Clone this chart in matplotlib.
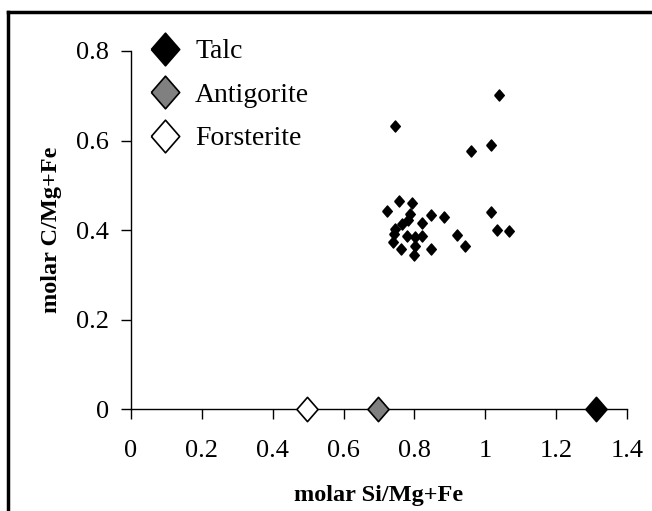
import matplotlib
matplotlib.use("Agg")
import matplotlib.pyplot as plt
from matplotlib.lines import Line2D

plt.rcParams['font.family'] = ['Liberation Serif', 'DejaVu Serif']

# Sample data
si_mg = [0.745, 1.038, 1.016, 0.960, 0.757, 0.794, 0.722, 1.016, 0.883, 0.846,
         0.787, 0.782, 0.766, 0.822, 0.745, 1.032, 1.067, 0.743, 0.778, 0.801,
         0.822, 0.921, 0.740, 0.944, 0.761, 0.801, 0.848, 0.798]
c_mg = [0.633, 0.702, 0.590, 0.577, 0.465, 0.461, 0.443, 0.440, 0.430, 0.434,
        0.435, 0.423, 0.414, 0.415, 0.403, 0.400, 0.397, 0.391, 0.387, 0.385,
        0.387, 0.389, 0.373, 0.365, 0.358, 0.365, 0.359, 0.344]

# Reference minerals
minerals = ["Talc", "Antigorite", "Forsterite"]
mineral_x = [1.312, 0.698, 0.496]
mineral_y = [0.0, 0.0, 0.0]
mineral_colors = ["black", "#808080", "white"]

diamond = [(-1, 0), (0, 1.15), (1, 0), (0, -1.15), (-1, 0)]

fig = plt.figure(figsize=(6.52, 5.11), dpi=100)
ax = fig.add_axes([131/652, 1 - 409.3/511, (627-131)/652, (409.3-51)/511])

ax.scatter(si_mg, c_mg, marker=diamond, s=64, color='black', zorder=3)

handles = []
for name, x, y, c in zip(minerals, mineral_x, mineral_y, mineral_colors):
    ax.plot([x], [y], marker=diamond, markersize=17.5, markerfacecolor=c,
            markeredgecolor='black', markeredgewidth=1.2, linestyle='none',
            zorder=4, clip_on=False)
    handles.append(Line2D([], [], marker=diamond, markersize=23.5, markerfacecolor=c,
                          markeredgecolor='black', markeredgewidth=1.2,
                          linestyle='none', label=name))

ax.set_xlim(0, 1.4)
ax.set_ylim(0, 0.8)
ax.set_xticks([0, 0.2, 0.4, 0.6, 0.8, 1.0, 1.2, 1.4])
ax.set_xticklabels(["0", "0.2", "0.4", "0.6", "0.8", "1", "1.2", "1.4"])
ax.set_yticks([0, 0.2, 0.4, 0.6, 0.8])
ax.set_yticklabels(["0", "0.2", "0.4", "0.6", "0.8"])
for s in ['top', 'right']:
    ax.spines[s].set_visible(False)
for s in ['left', 'bottom']:
    ax.spines[s].set_linewidth(1.0)
ax.tick_params(axis='both', direction='out', length=7, width=1.0, labelsize=19)
ax.tick_params(axis='x', pad=15)
ax.tick_params(axis='y', pad=9)

ax.set_xlabel("molar Si/Mg+Fe", fontsize=17.5, fontweight='bold', labelpad=17)
ax.set_ylabel("molar C/Mg+Fe", fontsize=17.5, fontweight='bold', labelpad=10)

leg = ax.legend(handles=handles, loc='upper left',
                bbox_to_anchor=(148/652, 1 - 39/511), bbox_transform=fig.transFigure,
                frameon=False, fontsize=20, handletextpad=0.5, borderpad=0,
                borderaxespad=0, labelspacing=0.65, handlelength=1.2)

# figure frame
fig.add_artist(Line2D([8/652, 8/652], [0, 1 - 12/511], color='black',
                      linewidth=2.5, transform=fig.transFigure))
fig.add_artist(Line2D([8/652, 1], [1 - 12/511, 1 - 12/511], color='black',
                      linewidth=2.5, transform=fig.transFigure))

fig.savefig("out.png", dpi=100)
